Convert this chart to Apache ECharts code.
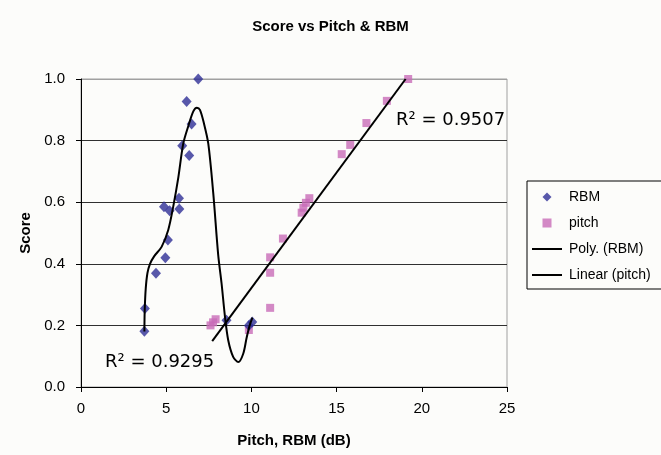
<!DOCTYPE html>
<html>
<head>
<meta charset="utf-8">
<script src="https://cdn.jsdelivr.net/npm/echarts@6/dist/echarts.min.js"></script>
<style>
html,body{margin:0;padding:0;background:#fcfcfa;}
#c{width:661px;height:455px;}
</style>
</head>
<body>
<div id="c"></div>
<script>
// RBM data (blue diamonds)
var rbmX = [3.72, 3.75, 4.40, 4.95, 5.10, 4.87, 5.20, 5.77, 5.75, 5.94, 6.35, 6.49, 6.20, 6.88, 8.54, 9.85, 10.05];
var rbmY = [0.181, 0.255, 0.369, 0.420, 0.477, 0.585, 0.572, 0.578, 0.613, 0.783, 0.752, 0.854, 0.927, 1.000, 0.217, 0.200, 0.211];
// pitch data (pink squares)
var pitchX = [7.60, 7.75, 7.90, 9.85, 11.10, 11.10, 11.10, 11.85, 12.95, 13.05, 13.20, 13.40, 15.30, 15.80, 16.75, 17.95, 19.20];
var pitchY = [0.200, 0.210, 0.220, 0.185, 0.257, 0.371, 0.421, 0.482, 0.566, 0.582, 0.598, 0.613, 0.756, 0.786, 0.857, 0.929, 1.000];
// Poly. (RBM) trendline
var polyX = [3.72, 3.74, 3.80, 3.90, 4.05, 4.30, 4.73, 5.12, 5.41, 5.71, 6.00, 6.29, 6.59, 6.80, 6.98, 7.21, 7.47, 7.76, 8.05, 8.25, 8.45, 8.64, 8.93, 9.23, 9.52, 9.72, 9.90, 10.06];
var polyY = [0.180, 0.250, 0.320, 0.370, 0.400, 0.425, 0.455, 0.510, 0.585, 0.680, 0.790, 0.846, 0.895, 0.907, 0.900, 0.857, 0.790, 0.630, 0.430, 0.336, 0.228, 0.152, 0.098, 0.081, 0.108, 0.160, 0.200, 0.225];
// Linear (pitch) trendline endpoints
var linX = [7.70, 19.05];
var linY = [0.149, 1.000];
// Axis ticks
var xTicks = [0, 5, 10, 15, 20, 25];
var yTicks = [0.0, 0.2, 0.4, 0.6, 0.8, 1.0];
var r2Poly = 'R\u00b2 = 0.9295';
var r2Lin = 'R\u00b2 = 0.9507';

function zip(a, b) { return a.map(function (v, i) { return [v, b[i]]; }); }

var chart = echarts.init(document.getElementById('c'), null, {renderer: 'canvas'});
var FONT = '"Liberation Sans", Arial, sans-serif';

var ICON_DIAMOND = 'path://M5,0 L10,5 L5,10 L0,5 Z';
var ICON_SQUARE = 'path://M0,0 L10,0 L10,10 L0,10 Z';
var ICON_LINE = 'path://M0,0 L30,0 L30,2 L0,2 Z';

chart.setOption({
  backgroundColor: '#fcfcfa',
  animation: false,
  title: {
    text: 'Score vs Pitch & RBM',
    left: 'center', top: 14,
    textStyle: {fontFamily: FONT, fontWeight: 'bold', fontSize: 15, color: '#000'}
  },
  grid: {
    left: 81, right: 154, top: 79, bottom: 68,
    show: true, borderColor: '#a0a0a0', borderWidth: 1, backgroundColor: 'transparent'
  },
  xAxis: {
    type: 'value', min: xTicks[0], max: xTicks[xTicks.length - 1], interval: 5,
    name: 'Pitch, RBM (dB)', nameLocation: 'middle', nameGap: 46,
    nameTextStyle: {fontFamily: FONT, fontWeight: 'bold', fontSize: 15, color: '#000'},
    axisLine: {lineStyle: {color: '#000', width: 1}},
    axisTick: {show: true, inside: false, length: 5, lineStyle: {color: '#000'}},
    axisLabel: {fontFamily: FONT, fontSize: 15, color: '#000', margin: 14},
    splitLine: {show: false}
  },
  yAxis: {
    type: 'value', min: yTicks[0], max: yTicks[yTicks.length - 1], interval: 0.2,
    name: 'Score', nameLocation: 'middle', nameGap: 42, nameRotate: 90,
    nameTextStyle: {fontFamily: FONT, fontWeight: 'bold', fontSize: 15, color: '#000'},
    axisLine: {show: true, lineStyle: {color: '#000', width: 1}},
    axisTick: {show: true, inside: false, length: 5, lineStyle: {color: '#000'}},
    axisLabel: {fontFamily: FONT, fontSize: 15, color: '#000', margin: 16,
      formatter: function (v) { return v.toFixed(1); }},
    splitLine: {show: true, lineStyle: {color: ['#000', '#303030', '#303030', '#303030', '#303030', '#a0a0a0'], width: 1}}
  },
  legend: {
    orient: 'vertical', left: 527, top: 181,
    borderColor: '#000', borderWidth: 1, backgroundColor: '#fcfcfa',
    padding: [9, 14, 7, 5],
    itemWidth: 30, itemHeight: 9, itemGap: 12, symbolKeepAspect: true,
    textStyle: {fontFamily: FONT, fontSize: 14, color: '#000', padding: [0, 0, 0, 2]},
    data: [
      {name: 'RBM', icon: ICON_DIAMOND},
      {name: 'pitch', icon: ICON_SQUARE},
      {name: 'Poly. (RBM)', icon: ICON_LINE},
      {name: 'Linear (pitch)', icon: ICON_LINE}
    ]
  },
  series: [
    {
      name: 'Poly. (RBM)', type: 'line', data: zip(polyX, polyY), smooth: 0.3,
      symbol: 'none', lineStyle: {color: '#000', width: 2}, itemStyle: {color: '#000'}, z: 3
    },
    {
      name: 'Linear (pitch)', type: 'line', data: zip(linX, linY),
      symbol: 'none', lineStyle: {color: '#000', width: 2}, itemStyle: {color: '#000'}, z: 3
    },
    {
      name: 'RBM', type: 'scatter', data: zip(rbmX, rbmY), symbol: 'diamond', symbolSize: [10, 11],
      itemStyle: {color: '#2e2e96'}, z: 2
    },
    {
      name: 'pitch', type: 'scatter', data: zip(pitchX, pitchY), symbol: 'rect', symbolSize: 8,
      itemStyle: {color: '#c86cb8'}, z: 1
    }
  ],
  graphic: [
    {type: 'text', left: 396, top: 111, style: {text: r2Lin, font: '18px "DejaVu Sans", sans-serif', fill: '#000'}},
    {type: 'text', left: 105, top: 353, style: {text: r2Poly, font: '18px "DejaVu Sans", sans-serif', fill: '#000'}}
  ]
});
</script>
</body>
</html>
